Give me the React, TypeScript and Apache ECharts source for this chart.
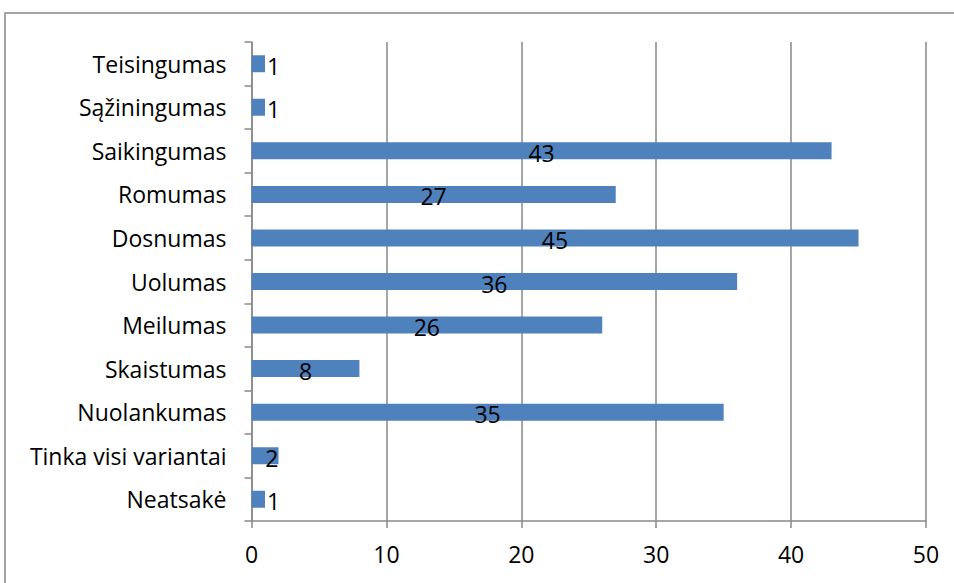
import React, { useEffect, useRef } from "react";
import * as echarts from "echarts";

const categories = [
  "Neatsakė",
  "Tinka visi variantai",
  "Nuolankumas",
  "Skaistumas",
  "Meilumas",
  "Uolumas",
  "Dosnumas",
  "Romumas",
  "Saikingumas",
  "Sąžiningumas",
  "Teisingumas",
];
const values = [1, 2, 35, 8, 26, 36, 45, 27, 43, 1, 1];
const xMin = 0;
const xMax = 50;
const xInterval = 10;

const FONT = "Open Sans";
const FS = 23;

export default function App() {
  const ref = useRef<HTMLDivElement>(null);
  useEffect(() => {
    if (!ref.current) return;
    const chart = echarts.init(ref.current, null, { renderer: "svg" });
    const data = values.map((v) => {
      let label: any = { position: "inside", offset: [0, 2] };
      if (v <= 1) label = { position: "right", distance: 2, offset: [0, 2] };
      else if (v <= 2) label = { position: "insideRight", distance: 0, offset: [0, 2] };
      return { value: v, label };
    });
    chart.setOption({
      animation: false,
      backgroundColor: "#ffffff",
      textStyle: { fontFamily: FONT },
      graphic: [
        {
          type: "rect",
          shape: { x: 5, y: 13, width: 1200, height: 1200 },
          style: { fill: "none", stroke: "#888888", lineWidth: 1.5 },
          silent: true,
        },
      ],
      grid: { left: 251.5, right: 28, top: 42, bottom: 62, containLabel: false },
      xAxis: {
        type: "value",
        min: xMin,
        max: xMax,
        interval: xInterval,
        axisLine: { show: true, lineStyle: { color: "#888888", width: 1.5 } },
        axisTick: { show: true, length: 7, lineStyle: { color: "#888888", width: 1.5 } },
        axisLabel: { color: "#000", fontSize: FS, fontFamily: FONT, margin: 21 },
        splitLine: { show: true, lineStyle: { color: "#888888", width: 1.5 } },
      },
      yAxis: {
        type: "category",
        data: categories,
        axisLine: { show: true, lineStyle: { color: "#888888", width: 1.5 } },
        axisTick: { show: true, length: 7, alignWithLabel: false, lineStyle: { color: "#888888", width: 1.5 } },
        axisLabel: { color: "#000", fontSize: FS, fontFamily: FONT, margin: 25 },
        splitLine: { show: false },
      },
      series: [
        {
          type: "bar",
          data,
          barWidth: 17,
          itemStyle: { color: "#4F81BD" },
          label: { show: true, color: "#000", fontSize: FS, fontFamily: FONT },
        },
      ],
    });
    return () => chart.dispose();
  }, []);
  return (
    <div
      ref={ref}
      style={{ position: "fixed", left: 0, top: 0, width: 954, height: 583 }}
    />
  );
}
